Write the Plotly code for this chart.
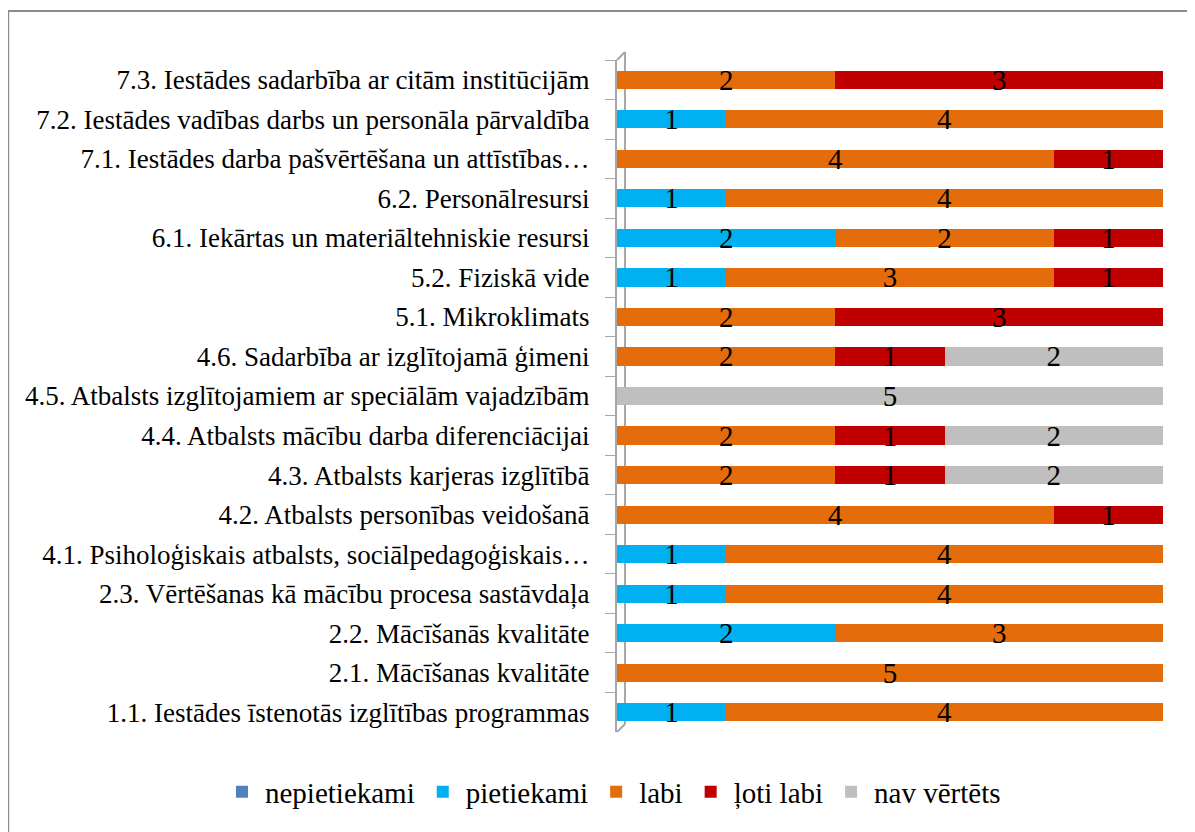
import plotly.graph_objects as go

categories = [
    "7.3. Iestādes sadarbība ar citām institūcijām",
    "7.2. Iestādes vadības darbs un personāla pārvaldība",
    "7.1. Iestādes darba pašvērtēšana un attīstības…",
    "6.2. Personālresursi",
    "6.1. Iekārtas un materiāltehniskie resursi",
    "5.2. Fiziskā vide",
    "5.1. Mikroklimats",
    "4.6. Sadarbība ar izglītojamā ģimeni",
    "4.5. Atbalsts izglītojamiem ar speciālām vajadzībām",
    "4.4. Atbalsts mācību darba diferenciācijai",
    "4.3. Atbalsts karjeras izglītībā",
    "4.2. Atbalsts personības veidošanā",
    "4.1. Psiholoģiskais atbalsts, sociālpedagoģiskais…",
    "2.3. Vērtēšanas kā mācību procesa sastāvdaļa",
    "2.2. Mācīšanās kvalitāte",
    "2.1. Mācīšanas kvalitāte",
    "1.1. Iestādes īstenotās izglītības programmas",
]

nepietiekami = [0, 0, 0, 0, 0, 0, 0, 0, 0, 0, 0, 0, 0, 0, 0, 0, 0]
pietiekami = [0, 1, 0, 1, 2, 1, 0, 0, 0, 0, 0, 0, 1, 1, 2, 0, 1]
labi = [2, 4, 4, 4, 2, 3, 2, 2, 0, 2, 2, 4, 4, 4, 3, 5, 4]
loti_labi = [3, 0, 1, 0, 1, 1, 3, 1, 0, 1, 1, 1, 0, 0, 0, 0, 0]
nav_vertets = [0, 0, 0, 0, 0, 0, 0, 2, 5, 2, 2, 0, 0, 0, 0, 0, 0]

series = [
    ("nepietiekami", nepietiekami, "#4F81BD"),
    ("pietiekami", pietiekami, "#00B0F0"),
    ("labi", labi, "#E46C0A"),
    ("ļoti labi", loti_labi, "#C00000"),
    ("nav vērtēts", nav_vertets, "#BFBFBF"),
]

SERIF = "Times New Roman, Liberation Serif, serif"
AXIS_GREY = "#A6A6A6"

fig = go.Figure()
for name, vals, color in series:
    fig.add_trace(go.Bar(
        y=categories,
        x=vals,
        name=name,
        orientation="h",
        marker=dict(color=color, line=dict(width=0)),
        text=[str(v) if v else "" for v in vals],
        textposition="inside",
        insidetextanchor="middle",
        textangle=0,
        constraintext="none",
        textfont=dict(size=29, color="black", family=SERIF),
        cliponaxis=False,
    ))

# back wall of the 3D axis (Excel style)
wall = dict(type="line", xref="paper", yref="paper", layer="below",
            line=dict(color=AXIS_GREY, width=2))

# page body has an 8px margin, so the figure is 8px smaller than the window
fig.update_layout(
    barmode="stack",
    bargap=0.54,
    width=1187,
    height=824,
    margin=dict(l=609, r=32, t=52, b=100, autoexpand=False),
    paper_bgcolor="white",
    plot_bgcolor="white",
    font=dict(family=SERIF, size=27, color="black"),
    showlegend=True,
    legend=dict(
        orientation="h",
        x=-0.729, xanchor="left",
        y=-0.089, yanchor="middle",
        font=dict(size=29),
        itemwidth=36,
        traceorder="normal",
    ),
    xaxis=dict(range=[0, 5], visible=False),
    yaxis=dict(
        autorange="reversed",
        showline=True, linecolor=AXIS_GREY, linewidth=2,
        ticks="outside", tickson="boundaries", ticklen=10, tickcolor=AXIS_GREY,
        ticklabelstandoff=20,
        showgrid=False,
    ),
    shapes=[
        dict(type="rect", xref="paper", yref="paper",
             x0=-1.115, x1=1.3, y0=-0.4, y1=1.073,
             line=dict(color="#8C8C8C", width=2)),
        dict(wall, x0=0.0147, x1=0.0147, y0=0.012, y1=1.012),
        dict(wall, x0=0, x1=0.0147, y0=1, y1=1.012),
        dict(wall, x0=0, x1=0.0147, y0=0, y1=0.012),
    ],
)

fig.write_html("out.html")
